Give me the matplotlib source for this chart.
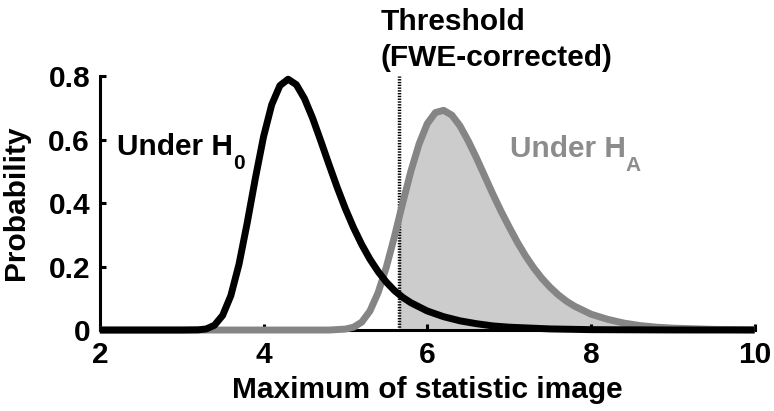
import numpy as np
import matplotlib
matplotlib.use('Agg')
import matplotlib.pyplot as plt
from matplotlib.patches import Rectangle

plt.rcParams['font.family'] = ['Liberation Sans', 'DejaVu Sans']
plt.rcParams['font.weight'] = 'bold'

# distribution of the max statistic under the null
x_h0 = [2.0, 3.0, 3.2, 3.3, 3.4, 3.5, 3.6, 3.7, 3.8, 3.9, 4.0, 4.1, 4.2, 4.3,
        4.4, 4.5, 4.6, 4.7, 4.8, 4.9, 5.0, 5.1, 5.2, 5.3, 5.4, 5.5, 5.6, 5.7,
        5.8, 6.0, 6.2, 6.4, 6.6, 6.8, 7.0, 7.5, 8.0, 9.0, 10.0]
p_h0 = [0.0, 0.0, 0.0006, 0.0035, 0.015, 0.046, 0.108, 0.207, 0.337, 0.478,
        0.609, 0.710, 0.770, 0.790, 0.773, 0.729, 0.667, 0.595, 0.521, 0.449,
        0.382, 0.322, 0.269, 0.223, 0.184, 0.151, 0.124, 0.103, 0.086, 0.060,
        0.042, 0.029, 0.020, 0.013, 0.009, 0.0035, 0.0012, 0.0002, 0.0]

# ... and under the alternative
x_ha = [2.0, 4.8, 5.0, 5.1, 5.2, 5.3, 5.4, 5.5, 5.6, 5.7, 5.8, 5.9, 6.0, 6.1,
        6.2, 6.3, 6.4, 6.5, 6.6, 6.7, 6.8, 6.9, 7.0, 7.1, 7.2, 7.3, 7.4, 7.5,
        7.6, 7.7, 7.8, 8.0, 8.2, 8.4, 8.6, 8.8, 9.0, 9.5, 10.0]
p_ha = [0.0, 0.0, 0.003, 0.009, 0.025, 0.060, 0.118, 0.198, 0.295, 0.400,
        0.500, 0.586, 0.650, 0.685, 0.692, 0.677, 0.643, 0.596, 0.543, 0.486,
        0.429, 0.375, 0.325, 0.277, 0.234, 0.196, 0.163, 0.135, 0.111, 0.091,
        0.075, 0.050, 0.034, 0.022, 0.014, 0.009, 0.006, 0.002, 0.001]

threshold = 5.66

fig = plt.figure(figsize=(7.74, 4.11), dpi=100)
ax = fig.add_axes([0.129, 0.197, 0.846, 0.618])

fill = ax.fill_between(x_ha, 0, p_ha, color='#cccccc', lw=0, zorder=1)
fill.set_clip_path(Rectangle((threshold, 0), 10 - threshold, 0.8,
                             transform=ax.transData))
ax.plot(x_ha, p_ha, color='#858585', lw=5, zorder=3, clip_on=False,
        solid_capstyle='butt', solid_joinstyle='round')
ax.plot([threshold, threshold], [0, 0.8], color='black', lw=2.5,
        linestyle=(0, (0.4, 0.4)), zorder=2, clip_on=False)
ax.plot(x_h0, p_h0, color='black', lw=5, zorder=4, clip_on=False,
        solid_capstyle='butt', solid_joinstyle='round')

fs = 21.5
# labels with big, low subscripts
t0 = ax.text(2.21, 0.55, 'Under H', fontsize=fs, fontweight='bold',
             va='baseline', ha='left')
ax.annotate('0', xy=(1, 0), xycoords=t0, xytext=(0, 5),
            textcoords='offset points', fontsize=15, fontweight='bold',
            va='top', ha='left')
ta = ax.text(7.01, 0.545, 'Under H', fontsize=fs, fontweight='bold',
             va='baseline', ha='left', color='#8c8c8c')
ax.annotate('A', xy=(1, 0), xycoords=ta, xytext=(0, 5),
            textcoords='offset points', fontsize=15, fontweight='bold',
            va='top', ha='left', color='#8c8c8c')
ax.text(5.425, 1.014, 'Threshold\n(FWE-corrected)', fontsize=fs,
        fontweight='bold', va='top', ha='left', linespacing=1.35,
        clip_on=False)

ax.set_xlim(2, 10)
ax.set_ylim(0, 0.8)
ax.set_xticks([2, 4, 6, 8, 10])
ax.set_yticks([0, 0.2, 0.4, 0.6, 0.8])
ax.set_yticklabels(['0', '0.2', '0.4', '0.6', '0.8'])
ax.tick_params(direction='in', length=4, width=2.2, labelsize=fs)
ax.tick_params(axis='x', pad=8)
ax.tick_params(axis='y', pad=7)
for s in ['top', 'right']:
    ax.spines[s].set_visible(False)
for s in ['left', 'bottom']:
    ax.spines[s].set_linewidth(2.2)
ax.set_xlabel('Maximum of statistic image', fontsize=fs, fontweight='bold',
              labelpad=5)
ax.set_ylabel('Probability', fontsize=fs, fontweight='bold', labelpad=13)

fig.savefig('out.png', dpi=100)
